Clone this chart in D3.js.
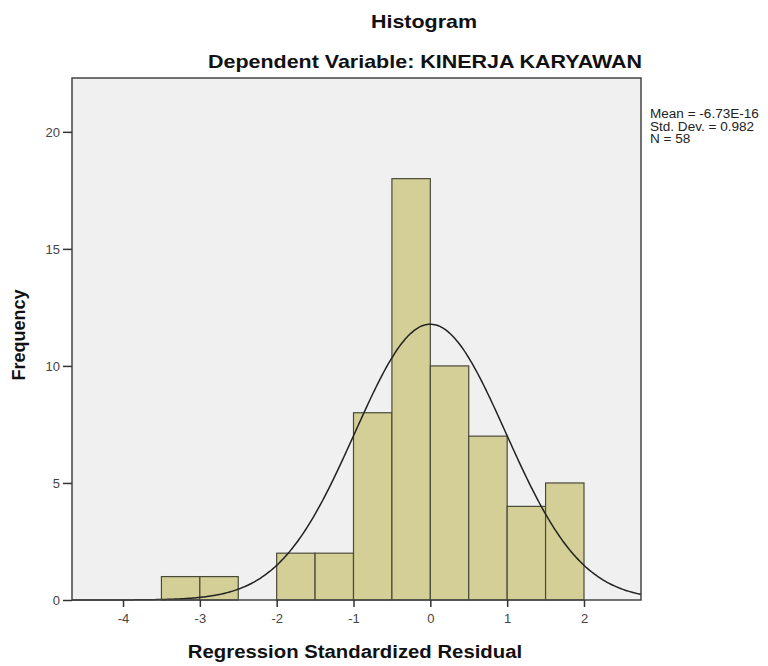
<!DOCTYPE html>
<html><head><meta charset="utf-8">
<script src="https://cdn.jsdelivr.net/npm/d3@7"></script>
<style>body{margin:0;background:#fff;} text{font-family:Arial,"Liberation Sans",sans-serif;}</style>
</head><body>
<svg id="c" width="768" height="666"></svg>
<script>
const binStarts = [-3.5,-3,-2,-1.5,-1,-0.5,0,0.5,1,1.5];
const binCounts = [1,1,2,2,8,18,10,7,4,5];
const binWidth = 0.5;
const xTicks = [-4,-3,-2,-1,0,1,2];
const yTicks = [0,5,10,15,20];
const stats = {mean:-6.73e-16, sd:0.982, n:58};
const legendLines = ["Mean = -6.73E-16","Std. Dev. = 0.982","N = 58"];

const svg = d3.select("#c");
const L=72,R=641,T=78,B=600;
const SX=1.13;
const x = d3.scaleLinear().domain([-4.664,2.742]).range([L,R]);
const y = d3.scaleLinear().domain([0,22.3]).range([B,T]);

svg.append("rect").attr("x",L).attr("y",T).attr("width",R-L).attr("height",B-T).attr("fill","#f0f0f0");

svg.append("g").selectAll("rect").data(binStarts.map((s,i)=>({s,c:binCounts[i]}))).join("rect")
  .attr("x",d=>x(d.s)).attr("y",d=>y(d.c)).attr("width",d=>x(d.s+binWidth)-x(d.s)).attr("height",d=>B-y(d.c))
  .attr("fill","#d3cf96").attr("stroke","#4a4a3a").attr("stroke-width",1.2);

const pts = d3.range(-4.664,2.742,0.02).concat([2.742]).map(v=>[v, stats.n*binWidth/(stats.sd*Math.sqrt(2*Math.PI))*Math.exp(-0.5*((v-stats.mean)/stats.sd)**2)]);
svg.append("path").datum(pts).attr("fill","none").attr("stroke","#222").attr("stroke-width",1.5)
  .attr("d",d3.line().x(d=>x(d[0])).y(d=>y(d[1])).curve(d3.curveBasis));

svg.append("rect").attr("x",L).attr("y",T).attr("width",R-L).attr("height",B-T).attr("fill","none").attr("stroke","#444").attr("stroke-width",1.5);

const xa = svg.append("g").attr("transform",`translate(0,${B})`).call(d3.axisBottom(x).tickValues(xTicks).tickSize(7).tickPadding(7).tickFormat(d3.format("d")));
const ya = svg.append("g").attr("transform",`translate(${L},0)`).call(d3.axisLeft(y).tickValues(yTicks).tickSize(9).tickPadding(3).tickFormat(d3.format("d")));
[xa,ya].forEach(a=>{a.select(".domain").remove();a.selectAll("line").attr("stroke","#333").attr("stroke-width",1.5);a.selectAll("text").attr("font-size",13).attr("fill","#444").attr("font-family","Arial");});
xa.selectAll("text").text(d=>d<0?"-"+Math.abs(d):d);

function stext(cx,cy,str,size,anchor,bold){
  return svg.append("text").attr("transform",`translate(${cx},${cy}) scale(${SX},1)`).attr("text-anchor",anchor)
    .attr("font-size",size).attr("font-weight",bold?"bold":"normal").attr("fill","#111").text(str);
}
stext(424,28,"Histogram",19,"middle",true);
stext(425,68,"Dependent Variable: KINERJA KARYAWAN",19,"middle",true);
stext(355,658,"Regression Standardized Residual",18,"middle",true);
svg.append("text").attr("transform","translate(25,335) rotate(-90)").attr("text-anchor","middle").attr("font-size",18).attr("font-weight","bold").attr("fill","#111").text("Frequency");

legendLines.forEach((d,i)=>stext(650,118+i*12.7,d,12,"start",false).attr("fill","#222"));
</script>
</body></html>
